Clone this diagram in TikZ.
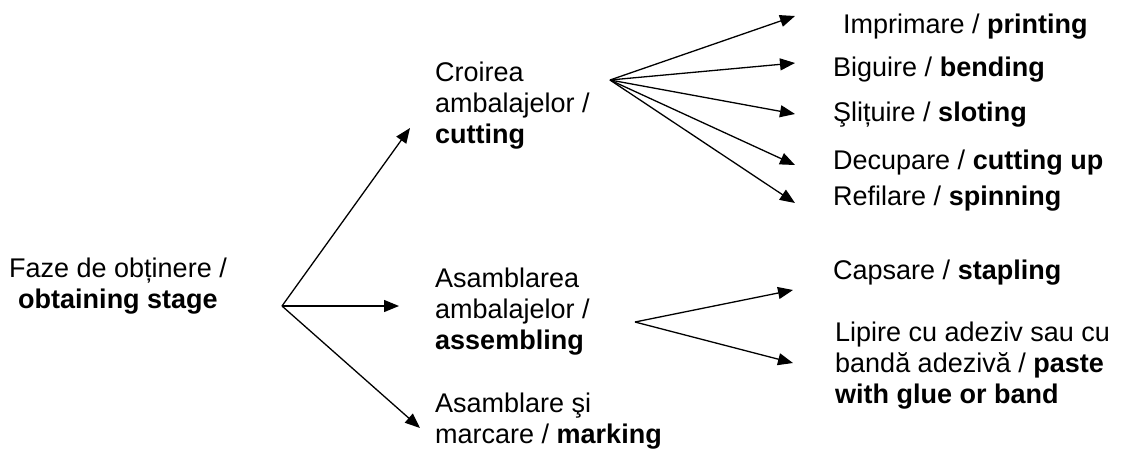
\documentclass[tikz,border=0pt]{standalone}
\usepackage{fontspec}
\setmainfont{Liberation Sans}
\usetikzlibrary{arrows.meta}
\begin{document}
\begin{tikzpicture}[x=1pt,y=-1pt,
  lbl/.style={font=\fontsize{27}{31}\selectfont, inner sep=0pt, align=left, anchor=base west},
  arr/.style={line width=1.3pt, -{Triangle[length=15pt,width=12pt]}}]
\useasboundingbox (0,0) rectangle (1122,448);

% root (base anchor = baseline of the last line)
\node[lbl, align=center, anchor=base] (faze) at (118,308) {Faze de obținere /\\\textbf{obtaining stage}};

% second level
\node[lbl] (cro) at (435,143) {Croirea\\ambalajelor /\\\textbf{cutting}};
\node[lbl] (asa) at (435,349) {Asamblarea\\ambalajelor /\\\textbf{assembling}};
\node[lbl] (mar) at (435,443) {Asamblare şi\\marcare / \textbf{marking}};

% cutting operations
\node[lbl] (imp) at (843,33) {Imprimare / \textbf{printing}};
\node[lbl] (big) at (833,76) {Biguire / \textbf{bending}};
\node[lbl] (sli) at (833,121) {Şlițuire / \textbf{sloting}};
\node[lbl] (dec) at (833,169) {Decupare / \textbf{cutting up}};
\node[lbl] (ref) at (833,205) {Refilare / \textbf{spinning}};

% assembling operations
\node[lbl] (cap) at (833,279) {Capsare / \textbf{stapling}};
\node[lbl] (lip) at (835,403) {Lipire cu adeziv sau cu\\bandă adezivă / \textbf{paste}\\\textbf{with glue or band}};

% branching points and arrow ends
\coordinate (h0) at (282,306);
\coordinate (h1) at (610,80);
\coordinate (h2) at (635,322);
\coordinate (a1) at (410,128);
\coordinate (a2) at (399,306);
\coordinate (a3) at (420,428);
\coordinate (b1) at (795,16);
\coordinate (b2) at (795,63);
\coordinate (b3) at (795,114);
\coordinate (b4) at (795,165);
\coordinate (b5) at (795,203);
\coordinate (c1) at (793,290);
\coordinate (c2) at (793,363);

\foreach \t in {a1,a2,a3} \draw[arr] (h0) -- (\t);
\foreach \t in {b1,b2,b3,b4,b5} \draw[arr] (h1) -- (\t);
\foreach \t in {c1,c2} \draw[arr] (h2) -- (\t);
\end{tikzpicture}
\end{document}
